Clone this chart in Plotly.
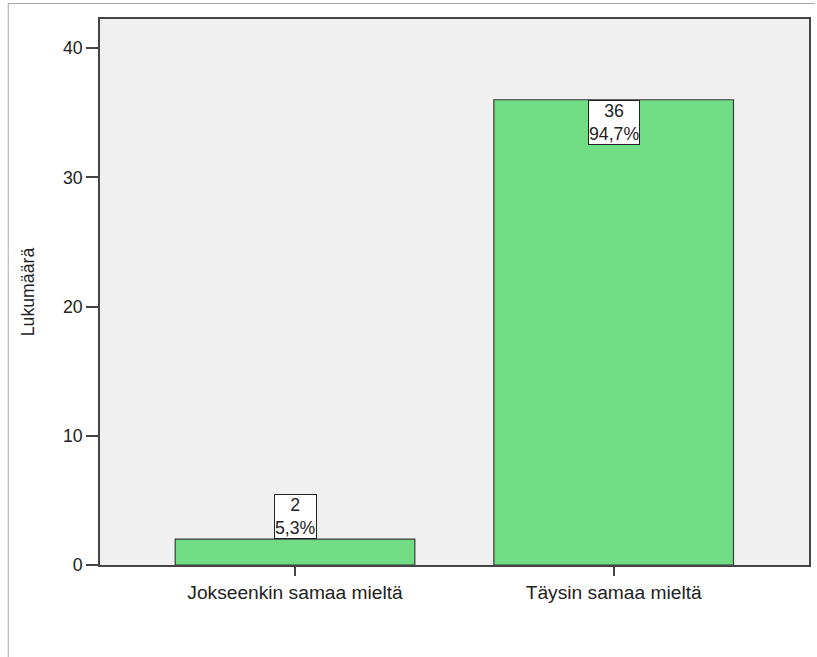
import plotly.graph_objects as go

# Survey response counts
categories = ["Jokseenkin samaa mieltä", "Täysin samaa mieltä"]
counts = [2, 36]
percents = ["5,3%", "94,7%"]

W, H = 817, 657
L, R, T, B = 100, 6, 19, 92
pw, ph = W - L - R, H - T - B

FONT = "Liberation Sans, Arial, sans-serif"
font = dict(family=FONT, size=17.7, color="#222")
xfont = dict(family=FONT, size=19.2, color="#222")

fig = go.Figure()
fig.add_trace(go.Bar(
    x=list(range(len(categories))),
    y=counts,
    width=0.752,
    marker=dict(color="#70dc84", line=dict(color="#3a3a3a", width=1.2)),
    hoverinfo="skip",
))

# Value labels: inside the bar when it is tall enough, otherwise above it
for i, (c, p) in enumerate(zip(counts, percents)):
    inside = c > 5
    fig.add_annotation(
        x=i, y=c, xref="x", yref="y",
        text=f"{c}<br>{p}", showarrow=False,
        yanchor="top" if inside else "bottom",
        bgcolor="white", bordercolor="#222", borderwidth=1, borderpad=0,
        font=font,
    )

def px_x(v):
    return (v - L) / pw

def px_y(v):
    return (H - B - v) / ph

# Outer frame (top and left edges)
frame = dict(type="line", xref="paper", yref="paper", line=dict(color="#a8a8a8", width=1))
fig.add_shape(**frame, x0=px_x(8), x1=px_x(W), y0=px_y(3.5), y1=px_y(3.5))
fig.add_shape(**frame, x0=px_x(8), x1=px_x(8), y0=px_y(3.5), y1=px_y(H))

fig.update_layout(
    width=W, height=H,
    margin=dict(l=L, r=R, t=T, b=B),
    paper_bgcolor="white", plot_bgcolor="#f0f0f0",
    showlegend=False, font=font,
    xaxis=dict(
        range=[-0.612, 1.613], tickvals=list(range(len(categories))), ticktext=categories,
        showline=True, mirror=True, linecolor="#444", linewidth=1.5,
        ticks="outside", ticklen=9, tickcolor="#444", tickwidth=1.5,
        showgrid=False, zeroline=False, fixedrange=True, tickfont=xfont,
    ),
    yaxis=dict(
        range=[0, 42.25], tickvals=[0, 10, 20, 30, 40],
        showline=True, mirror=True, linecolor="#444", linewidth=1.5,
        ticks="outside", ticklen=12, tickcolor="#444", tickwidth=1.5,
        showgrid=False, zeroline=False, fixedrange=True, tickfont=font,
        title=dict(text="Lukumäärä", standoff=24, font=font),
    ),
)

fig.write_html("out.html")
